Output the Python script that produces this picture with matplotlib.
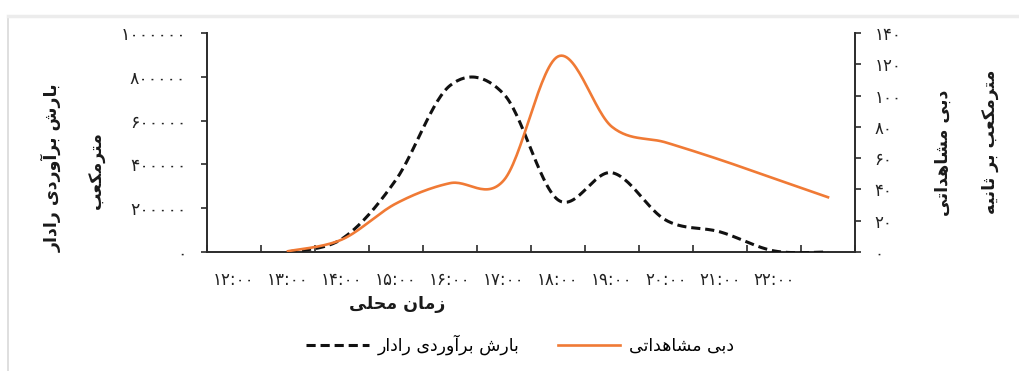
import numpy as np
import matplotlib
matplotlib.use("Agg")
import matplotlib.pyplot as plt
from matplotlib.lines import Line2D

plt.rcParams['font.family'] = ['DejaVu Sans']

# ---------------- data ----------------
hours = [13, 14, 15, 16, 17, 18, 19, 20, 21, 22, 23]
radar_rain = [0, 60000, 330000, 760000, 720000, 238000, 362000, 145000, 92000, 5000, 0]
observed_flow = [0.5, 8, 31, 44, 46, 125, 80, 70, 59, 47, 35]
x_label_hours = [12, 13, 14, 15, 16, 17, 18, 19, 20, 21, 22]
left_ticks = [0, 200000, 400000, 600000, 800000, 1000000]
right_ticks = [0, 20, 40, 60, 80, 100, 120, 140]

# ---------------- Persian text helpers ----------------
FORMS = {
    '\u0627': ('\uFE8D', '\uFE8E', None, None),
    '\u0622': ('\uFE81', '\uFE82', None, None),
    '\u062F': ('\uFEA9', '\uFEAA', None, None),
    '\u0631': ('\uFEAD', '\uFEAE', None, None),
    '\u0632': ('\uFEAF', '\uFEB0', None, None),
    '\u0648': ('\uFEED', '\uFEEE', None, None),
    '\u0628': ('\uFE8F', '\uFE90', '\uFE91', '\uFE92'),
    '\u062A': ('\uFE95', '\uFE96', '\uFE97', '\uFE98'),
    '\u062B': ('\uFE99', '\uFE9A', '\uFE9B', '\uFE9C'),
    '\u062D': ('\uFEA1', '\uFEA2', '\uFEA3', '\uFEA4'),
    '\u0634': ('\uFEB5', '\uFEB6', '\uFEB7', '\uFEB8'),
    '\u0639': ('\uFEC9', '\uFECA', '\uFECB', '\uFECC'),
    '\u0644': ('\uFEDD', '\uFEDE', '\uFEDF', '\uFEE0'),
    '\u0645': ('\uFEE1', '\uFEE2', '\uFEE3', '\uFEE4'),
    '\u0646': ('\uFEE5', '\uFEE6', '\uFEE7', '\uFEE8'),
    '\u0647': ('\uFEE9', '\uFEEA', '\uFEEB', '\uFEEC'),
    '\u06CC': ('\uFBFC', '\uFBFD', '\uFBFE', '\uFBFF'),
    '\u06A9': ('\uFB8E', '\uFB8F', '\uFB90', '\uFB91'),
}


def fa(text):
    chars = list(text)
    out = []
    for i, c in enumerate(chars):
        if c not in FORMS:
            out.append(c)
            continue
        iso, fin, ini, med = FORMS[c]
        prev = chars[i - 1] if i > 0 else None
        nxt = chars[i + 1] if i + 1 < len(chars) else None
        jp = prev in FORMS and FORMS[prev][2] is not None
        jn = nxt in FORMS and ini is not None
        if jp and jn:
            out.append(med)
        elif jp:
            out.append(fin)
        elif jn:
            out.append(ini)
        else:
            out.append(iso)
    return ''.join(reversed(out))


DIG = str.maketrans('0123456789', '۰۱۲۳۴۵۶۷۸۹')


def fa_num(s):
    return str(s).translate(DIG)


def smooth(x, y, n=30):
    """Excel-like smoothed line (Catmull-Rom cubic Bezier segments)."""
    x = np.asarray(x, float)
    y = np.asarray(y, float)
    xs, ys = [], []
    m = len(x)
    for i in range(m - 1):
        i0 = max(i - 1, 0)
        i3 = min(i + 2, m - 1)
        p0x, p0y = x[i], y[i]
        p3x, p3y = x[i + 1], y[i + 1]
        b1x = p0x + (x[i + 1] - x[i0]) / 6.0
        b1y = p0y + (y[i + 1] - y[i0]) / 6.0
        b2x = p3x - (x[i3] - x[i]) / 6.0
        b2y = p3y - (y[i3] - y[i]) / 6.0
        t = np.linspace(0, 1, n, endpoint=(i == m - 2))
        a = (1 - t) ** 3
        b = 3 * (1 - t) ** 2 * t
        c = 3 * (1 - t) * t ** 2
        d = t ** 3
        xs.append(a * p0x + b * b1x + c * b2x + d * p3x)
        ys.append(a * p0y + b * b1y + c * b2y + d * p3y)
    return np.concatenate(xs), np.concatenate(ys)


# ---------------- figure ----------------
W, H = 1020, 371
fig = plt.figure(figsize=(W / 100, H / 100), dpi=100)
fig.patch.set_facecolor('white')

ax = fig.add_axes([207 / W, 1 - 252 / H, (855 - 207) / W, (252 - 33) / H])
ax2 = ax.twinx()

spine_c = '#2b2b2b'
tick_c = '#222222'

sx, sy = smooth(hours, radar_rain)
ax.plot(sx, sy, color='#111111', lw=2.2, ls=(0, (3.0, 1.6)), zorder=3,
        label=fa('بارش برآوردی رادار'))
ox, oy = smooth(hours, observed_flow)
ax2.plot(ox, oy, color='#F07A35', lw=1.9, zorder=4, label=fa('دبی مشاهداتی'))

ax.set_xlim(11.5, 23.5)
ax.set_ylim(0, 1000000)
ax2.set_ylim(0, 140)

# x ticks: marks at category boundaries, labels at centers
ax.set_xticks(np.arange(11.5, 24.0, 1.0))
ax.set_xticklabels([])
ax.set_xticks(x_label_hours, minor=True)
ax.set_xticklabels([fa_num(f'{h}:00') for h in x_label_hours], minor=True,
                   fontsize=12, color=tick_c)
ax.tick_params(axis='x', which='major', direction='in', length=5, width=1.2,
               color=spine_c)
ax.tick_params(axis='x', which='minor', length=0, pad=14)

ax.set_yticks(left_ticks)
ax.set_yticklabels([fa_num(v) for v in left_ticks], fontsize=12.5, color=tick_c)
ax.tick_params(axis='y', direction='out', length=4, width=1.2, color=spine_c, pad=11)

ax2.set_yticks(right_ticks)
ax2.set_yticklabels([fa_num(v) for v in right_ticks], fontsize=12, color=tick_c)
ax2.tick_params(axis='y', direction='out', length=4, width=1.2, color=spine_c, pad=10)

for a in (ax, ax2):
    a.spines['top'].set_visible(False)
    a.patch.set_visible(False)
ax.spines['right'].set_visible(False)
ax2.spines['left'].set_visible(False)
ax2.spines['bottom'].set_visible(False)
for s in ('left', 'bottom'):
    ax.spines[s].set_color(spine_c)
    ax.spines[s].set_linewidth(1.4)
ax2.spines['right'].set_color(spine_c)
ax2.spines['right'].set_linewidth(1.4)

# axis titles
fig.text(52 / W, 1 - 168 / H, fa('بارش برآوردی رادار'), rotation=90,
         ha='center', va='center', fontsize=12.5, fontweight='bold', color='#1a1a1a')
fig.text(97 / W, 1 - 170 / H, fa('مترمکعب'), rotation=90,
         ha='center', va='center', fontsize=12.5, fontweight='bold', color='#1a1a1a')
fig.text(943 / W, 1 - 153 / H, fa('دبی مشاهداتی'), rotation=90,
         ha='center', va='center', fontsize=12.5, fontweight='bold', color='#1a1a1a')
fig.text(990 / W, 1 - 142 / H, fa('مترمکعب بر ثانیه'), rotation=90,
         ha='center', va='center', fontsize=12.5, fontweight='bold', color='#1a1a1a')
fig.text(397 / W, 1 - 304 / H, fa('زمان محلی'), ha='center', va='center',
         fontsize=12.5, fontweight='bold', color='#1a1a1a')

# legend
h1, l1 = ax.get_legend_handles_labels()
h2, l2 = ax2.get_legend_handles_labels()
fig.legend(h1 + h2, l1 + l2, ncol=2, loc='center', bbox_to_anchor=(520 / W, 1 - 345 / H),
           frameon=False, fontsize=12.5, handlelength=3.6, handletextpad=0.5,
           columnspacing=2.2)

# faint scan frame
fig.add_artist(Line2D([8 / W, 8 / W], [0, 1 - 18 / H], color='#d9d9d9', lw=1.2))
fig.add_artist(Line2D([8 / W, 1], [1 - 16 / H, 1 - 16 / H], color='#ececec', lw=2.5))

fig.savefig('out.png', dpi=100, facecolor='white')
